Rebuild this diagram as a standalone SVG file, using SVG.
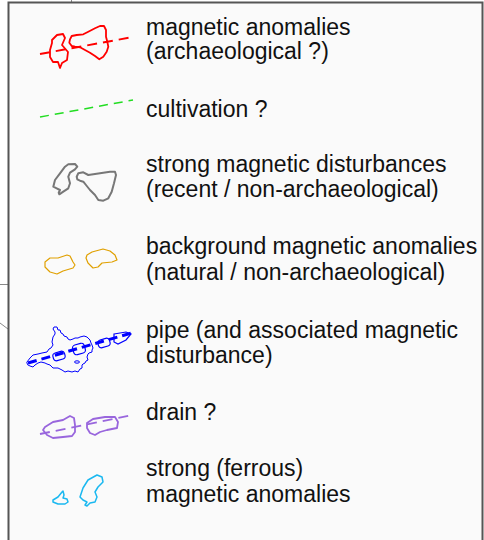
<svg xmlns="http://www.w3.org/2000/svg" width="484" height="540" viewBox="0 0 484 540">
  <style>
    .label { font-family: "Liberation Sans", Arial, sans-serif; font-size: 23px; fill: #111; }
    .frame { fill: #fafafa; stroke: #555; stroke-width: 2; }
    .stub { fill: none; stroke: #888; stroke-width: 1; }
    .blob { fill: none; stroke-linejoin: round; stroke-linecap: round; }
    .dash { fill: none; stroke-linecap: butt; }
  </style>

  <!-- background and legend frame -->
  <rect x="0" y="0" width="484" height="540" fill="#ffffff"/>
  <path class="stub" d="M71.5,0 V2 M0,284.5 H8 M0,323 L8,329"/>
  <rect class="frame" x="8.5" y="2.5" width="474" height="600"/>

  <!-- magnetic anomalies (archaeological ?) -->
  <g id="archaeological">
    <path class="blob" stroke="#ff0000" stroke-width="1.8" d="M52,40 L57,35 L63,34 L65,38 L62,45 L68,52 L67,60 L62,63 L60,68 L58,62 L53,62 L50,57 L50,50 L52,43 Z"/>
    <path class="blob" stroke="#ff0000" stroke-width="1.8" d="M70,39.3 L71.7,36 L76.7,35 L83.3,34.3 L88.3,31.7 L95,28.3 L100,26 L104,26 L106,30 L106,36.7 L107.3,41.7 L108.3,46.7 L106.7,51.7 L103.3,56.7 L99.3,59.3 L95,56 L90,52.7 L85,50 L80,47.3 L75,46.7 L71.7,46 L69.3,42.7 Z"/>
    <path class="dash" stroke="#ff0000" stroke-width="2" stroke-dasharray="10,6" d="M40,54 L133,37"/>
    <text class="label" x="146" y="35">magnetic anomalies</text>
    <text class="label" x="146" y="59">(archaeological ?)</text>
  </g>

  <!-- cultivation ? -->
  <g id="cultivation">
    <path class="dash" stroke="#22dd22" stroke-width="1.5" stroke-dasharray="9,6" d="M40,117 L133,100"/>
    <text class="label" x="146" y="117">cultivation ?</text>
  </g>

  <!-- strong magnetic disturbances -->
  <g id="disturbances">
    <path class="blob" stroke="#777777" stroke-width="2" d="M53.3,186.7 L55,180 L60,173.3 L65,166.7 L68.3,164.3 L75,164 L77.3,166.7 L75,169.3 L70,172.7 L68.3,176.7 L70,183.3 L68.3,188.3 L63.3,191.7 L59.3,194.3 L58.7,192.7 L60,190 L56.7,188.3 Z"/>
    <path class="blob" stroke="#777777" stroke-width="2" d="M76.7,176.7 L78.3,173.3 L83.3,172.3 L88.3,175 L95,174 L103.3,172.7 L110,171.7 L115,171.7 L116,175 L114,183.3 L111.7,191.7 L108.3,198.3 L103.3,200.7 L98.3,200 L95,195 L90,190 L86,185 L83.3,181.7 L80,180.7 L77.3,179.3 Z"/>
    <text class="label" x="146" y="172">strong magnetic disturbances</text>
    <text class="label" x="146" y="197">(recent / non-archaeological)</text>
  </g>

  <!-- background magnetic anomalies -->
  <g id="background">
    <path class="blob" stroke="#e0a000" stroke-width="1.2" d="M45,262 L50,258 L58,258 L67,255 L70,256 L73,262 L75,265 L73,268 L63,271 L57,274 L50,272 L45,267 Z"/>
    <path class="blob" stroke="#e0a000" stroke-width="1.2" d="M87,255 L92,252 L103,249 L110,251 L115,255 L117,260 L112,262 L102,263 L98,267 L93,268 L88,263 L86,258 Z"/>
    <text class="label" x="146" y="254">background magnetic anomalies</text>
    <text class="label" x="146" y="280">(natural / non-archaeological)</text>
  </g>

  <!-- pipe (and associated magnetic disturbance) -->
  <g id="pipe">
    <path class="blob" stroke="#0000ff" stroke-width="1" d="M27,362 L30,358 L33,355 L38,354 L42,353 L47,352 L49,349 L51,348 L53,345 L52,342 L53,337 L55,334 L55,332 L53,329 L54,327 L57,327 L58,330 L60,330 L61,333 L63,334 L64,336 L67,337 L68,339 L70,340 L73,339 L75,338 L78,338 L80,337 L84,336 L87,337 L89,339 L90,340 L91,343 L92,345 L93,348 L92,350 L92,352 L89,353 L88,354 L87,357 L88,360 L86,361 L85,363 L83,364 L82,365 L82,368 L80,369 L78,372 L75,371 L72,372 L68,371 L65,372 L62,370 L60,369 L58,368 L55,368 L53,368 L50,365 L47,364 L45,363 L41,362 L38,363 L35,365 L33,367 L30,366 L28,365 Z"/>
    <ellipse cx="77" cy="362" rx="2.5" ry="1.2" fill="none" stroke="#0000ff" stroke-width="1"/>
    <g fill="none" stroke="#0000ff" stroke-width="1.2">
      <rect x="-6" y="-4" width="12" height="8" rx="3" transform="translate(59,356) rotate(-16)"/>
      <rect x="-6" y="-5" width="12" height="10" rx="3" transform="translate(79,349) rotate(-16)"/>
      <rect x="-6" y="-4" width="12" height="8" rx="3" transform="translate(104,343) rotate(-16)"/>
      <path d="M114,334 L126,332 L131,334 L126,340 L118,344 L114,342 Z"/>
    </g>
    <path class="dash" stroke="#0000ff" stroke-width="3" stroke-dasharray="9,5" d="M28,363 L135,332"/>
    <text class="label" x="146" y="338">pipe (and associated magnetic</text>
    <text class="label" x="146" y="363">disturbance)</text>
  </g>

  <!-- drain ? -->
  <g id="drain">
    <path class="blob" stroke="#9966dd" stroke-width="1.8" d="M45,427 L53,422 L63,420 L70,416 L74,418 L75,425 L75,432 L72,436 L63,437 L53,438 L47,435 L43,430 Z"/>
    <path class="blob" stroke="#9966dd" stroke-width="1.8" d="M87,423 L93,419 L105,417 L115,417 L118,422 L117,428 L107,430 L100,432 L95,435 L90,433 L87,428 Z"/>
    <path class="dash" stroke="#9966dd" stroke-width="1.8" stroke-dasharray="10,6" d="M40,434 L133,415"/>
    <text class="label" x="146" y="420">drain ?</text>
  </g>

  <!-- strong (ferrous) magnetic anomalies -->
  <g id="ferrous">
    <path class="blob" stroke="#1ab8f0" stroke-width="1.5" d="M53,500 L58,497 L62,492 L63,491 L64,495 L63,498 L67,499 L68,502 L65,504 L58,504 L53,502 Z"/>
    <path class="blob" stroke="#1ab8f0" stroke-width="1.5" d="M80,497 L83,488 L88,480 L97,475 L102,477 L103,482 L98,487 L95,492 L97,497 L95,502 L90,503 L87,506 L85,505 L87,502 L83,500 Z"/>
    <text class="label" x="146" y="476">strong (ferrous)</text>
    <text class="label" x="146" y="502">magnetic anomalies</text>
  </g>
</svg>
